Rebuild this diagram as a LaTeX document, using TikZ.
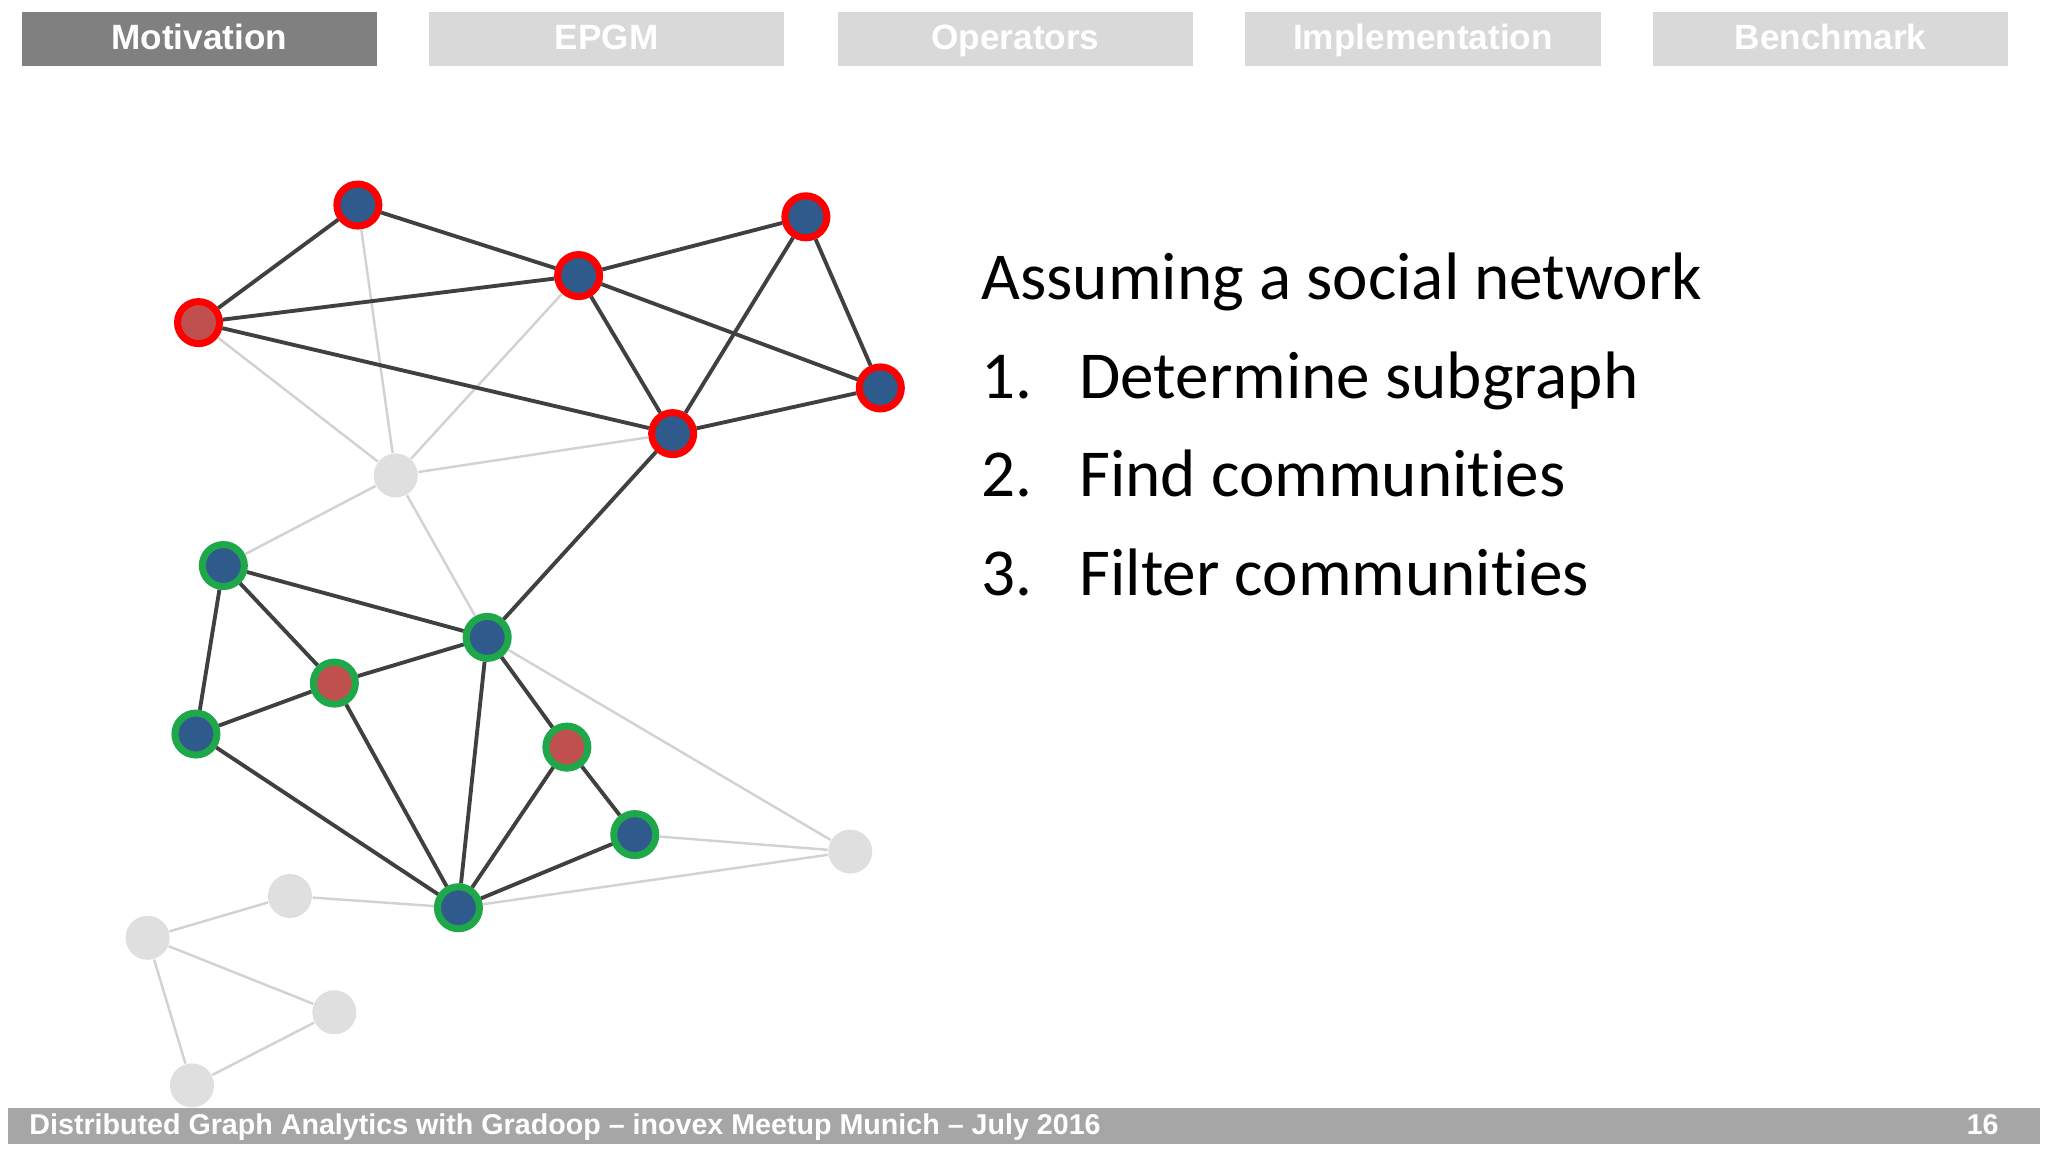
\documentclass[tikz,border=0pt]{standalone}
\usepackage{fontspec}
\setmainfont[Ligatures={NoCommon}]{Carlito}
\newfontfamily\arialf{Liberation Sans}
\definecolor{nblue}{HTML}{2F5B8C}
\definecolor{nred}{HTML}{C0504D}
\definecolor{ngreen}{HTML}{1EA84A}
\begin{document}
\begin{tikzpicture}[x=0.01306cm,y=-0.01306cm,
  tabon/.style={fill=gray!75!black!80, minimum width=272*0.01306cm, minimum height=41*0.01306cm, inner sep=0, text=white, text height=1.5ex, text depth=0.3ex, font=\arialf\bfseries\fontsize{10}{12}\selectfont, anchor=north west},
  taboff/.style={tabon, fill=gray!30},
  rv/.style={circle, draw=red, fill=nblue, line width=2pt, minimum size=0.42cm, inner sep=0},
  gv/.style={rv, draw=ngreen},
  gvr/.style={gv, fill=nred},
  lv/.style={circle, fill=gray!25, minimum size=0.44cm, inner sep=0},
  de/.style={draw=black!75, line width=1.1pt},
  le/.style={draw=gray!35, line width=0.7pt},
  body/.style={font=\fontsize{19.1}{22}\selectfont, anchor=base west, inner sep=0}]
\useasboundingbox (0,0) rectangle (1568,882);
\node[tabon] (t1) at (16,9) {Motivation};
\node[taboff] (t2) at (328,9) {EPGM};
\node[taboff] (t3) at (641,9) {Operators};
\node[taboff] (t4) at (953,9) {Implementation};
\node[taboff] (t5) at (1265,9) {Benchmark};
\fill[gray!70] (6,848) rectangle (1562,876);
\node[anchor=west, text=white, inner sep=0, font=\arialf\bfseries\fontsize{8.15}{9}\selectfont] (ft) at (22,863) {Distributed Graph Analytics with Gradoop – inovex Meetup Munich – July 2016};
\node[text=white, font=\arialf\bfseries\fontsize{8.15}{9}\selectfont] (pg) at (1518,861) {16};
% nodes
\node[lv] (G) at (303,364) {};
\node[lv] (H) at (651,652) {};
\node[lv] (I) at (222,686) {};
\node[lv] (J) at (113,718) {};
\node[lv] (K) at (256,775) {};
\node[lv] (L) at (147,831) {};
\node[rv] (A) at (274,157) {};
\node[rv] (B) at (443,211) {};
\node[rv] (C) at (617,166) {};
\node[rv,fill=nred] (D) at (152,247) {};
\node[rv] (E) at (674,297) {};
\node[rv] (F) at (515,332) {};
\node[gv] (M) at (171,433) {};
\node[gv] (N) at (373,488) {};
\node[gvr] (O) at (256,523) {};
\node[gv] (P) at (150,562) {};
\node[gvr] (Q) at (434,572) {};
\node[gv] (R) at (486,639) {};
\node[gv] (S) at (351,695) {};
\foreach \a/\b in {A/G,B/G,D/G,G/F,G/M,G/N,N/H,R/H,S/H,S/I,I/J,J/K,J/L,L/K}
  \path[le] (\a) -- (\b);
\foreach \a/\b in {A/D,A/B,B/C,D/B,D/F,B/F,B/E,C/F,C/E,F/E,F/N,M/N,M/O,M/P,O/N,O/P,O/S,P/S,N/S,N/Q,Q/R,Q/S,S/R}
  \path[de] (\a) -- (\b);
\node[body] (l0) at (751,229) {Assuming a social network};
\node[body] (l1) at (751,305) {1.\hspace{0.7em}Determine subgraph};
\node[body] (l2) at (751,380) {2.\hspace{0.7em}Find communities};
\node[body] (l3) at (751,456) {3.\hspace{0.7em}Filter communities};
\end{tikzpicture}
\end{document}
